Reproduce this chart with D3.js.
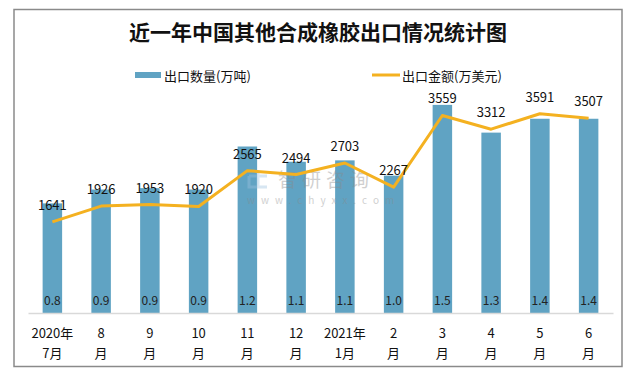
<!DOCTYPE html>
<html>
<head>
<meta charset="utf-8">
<script src="https://cdn.jsdelivr.net/npm/d3@7"></script>
<style>
    body { margin: 0; background: #fff; }
    text { font-family: "Noto Sans CJK SC", "Noto Sans", sans-serif; }
</style>
</head>
<body>
<div id="chart"></div>
<script>
// Data
const months = ["2020年|7月", "8|月", "9|月", "10|月", "11|月", "12|月", "2021年|1月", "2|月", "3|月", "4|月", "5|月", "6|月"];
const quantity = [0.79, 0.89, 0.9, 0.89, 1.2, 1.09, 1.1, 0.99, 1.5, 1.3, 1.4, 1.4];
const amount = [1641, 1926, 1953, 1920, 2565, 2494, 2703, 2267, 3559, 3312, 3591, 3507];

const width = 633, height = 376;
const barColor = "#60a3c3", lineColor = "#f4b120";

const svg = d3.select("#chart").append("svg")
    .attr("width", width)
    .attr("height", height);

// Outer frame
svg.append("rect")
    .attr("x", 14).attr("y", 9.5)
    .attr("width", 608).attr("height", 357)
    .attr("fill", "#fff")
    .attr("stroke", "#8a8a8a")
    .attr("stroke-width", 1.5);

// Title
svg.append("text")
    .attr("x", 318).attr("y", 40)
    .attr("text-anchor", "middle")
    .attr("font-size", 21)
    .attr("font-weight", "bold")
    .attr("fill", "#111")
    .text("近一年中国其他合成橡胶出口情况统计图");

// Legend
const legend = svg.append("g").attr("font-size", 13).attr("fill", "#111");
legend.append("rect").attr("x", 135).attr("y", 72).attr("width", 26).attr("height", 6).attr("fill", barColor);
legend.append("text").attr("x", 164).attr("y", 81).text("出口数量(万吨)");
legend.append("line").attr("x1", 372).attr("x2", 400).attr("y1", 75).attr("y2", 75)
    .attr("stroke", lineColor).attr("stroke-width", 3);
legend.append("text").attr("x", 402).attr("y", 81).text("出口金额(万美元)");

// Scales
const x = d3.scaleBand().domain(d3.range(months.length)).range([28, 613])
    .paddingInner(0.6).paddingOuter(0.3);
const yBar = d3.scaleLinear().domain([0, 1.6]).range([313, 91]);
const yLine = d3.scaleLinear().domain([0, 4000]).range([313, 91]);

// Bars
svg.selectAll(".bar")
    .data(quantity)
    .enter().append("rect")
    .attr("class", "bar")
    .attr("x", (d, i) => x(i))
    .attr("y", d => yBar(d))
    .attr("width", x.bandwidth())
    .attr("height", d => yBar(0) - yBar(d))
    .attr("fill", barColor);

// Watermark (faint, sits over the bars like the original)
const wm = svg.append("g").attr("opacity", 0.4);
wm.append("path")
    .attr("d", "M249,176 h18 M249,176 v11 h18 M258,170 v17")
    .attr("fill", "none").attr("stroke", "#9cc3e0").attr("stroke-width", 3);
wm.append("text").attr("x", 278).attr("y", 187).attr("font-size", 19).attr("fill", "#8a8a8a")
    .attr("letter-spacing", 5).text("智研咨询");
wm.append("text").attr("x", 247).attr("y", 204).attr("font-size", 10).attr("fill", "#8a8a8a")
    .attr("letter-spacing", 6).text("www.chyxx.com");

// Baseline axis
const xAxis = svg.append("g")
    .attr("transform", `translate(0, ${yBar(0)})`)
    .call(d3.axisBottom(x).tickSize(0).tickFormat(""));
xAxis.select(".domain").attr("stroke", "#d9d9d9").attr("stroke-width", 1.5);

// Category labels (two lines)
const cats = svg.selectAll(".cat")
    .data(months)
    .enter().append("text")
    .attr("class", "cat")
    .attr("text-anchor", "middle")
    .attr("font-size", 13)
    .attr("fill", "#111");
cats.each(function(d, i) {
    const parts = d.split("|");
    const cx = x(i) + x.bandwidth() / 2;
    d3.select(this).append("tspan").attr("x", cx).attr("y", 338).text(parts[0]);
    d3.select(this).append("tspan").attr("x", cx).attr("y", 358).text(parts[1]);
});

// Bar value labels
svg.selectAll(".qlabel")
    .data(quantity)
    .enter().append("text")
    .attr("class", "qlabel")
    .attr("x", (d, i) => x(i) + x.bandwidth() / 2)
    .attr("y", 305)
    .attr("text-anchor", "middle")
    .attr("font-size", 12)
    .attr("fill", "#222")
    .text(d => d.toFixed(1));

// Line
const line = d3.line()
    .x((d, i) => x(i) + x.bandwidth() / 2)
    .y(d => yLine(d));

svg.append("path")
    .datum(amount)
    .attr("fill", "none")
    .attr("stroke", lineColor)
    .attr("stroke-width", 3)
    .attr("stroke-linejoin", "round")
    .attr("d", line);

// Line value labels
svg.selectAll(".alabel")
    .data(amount)
    .enter().append("text")
    .attr("class", "alabel")
    .attr("x", (d, i) => x(i) + x.bandwidth() / 2)
    .attr("y", d => yLine(d) - 12)
    .attr("text-anchor", "middle")
    .attr("font-size", 13)
    .attr("fill", "#111")
    .text(d => d);
</script>
</body>
</html>
